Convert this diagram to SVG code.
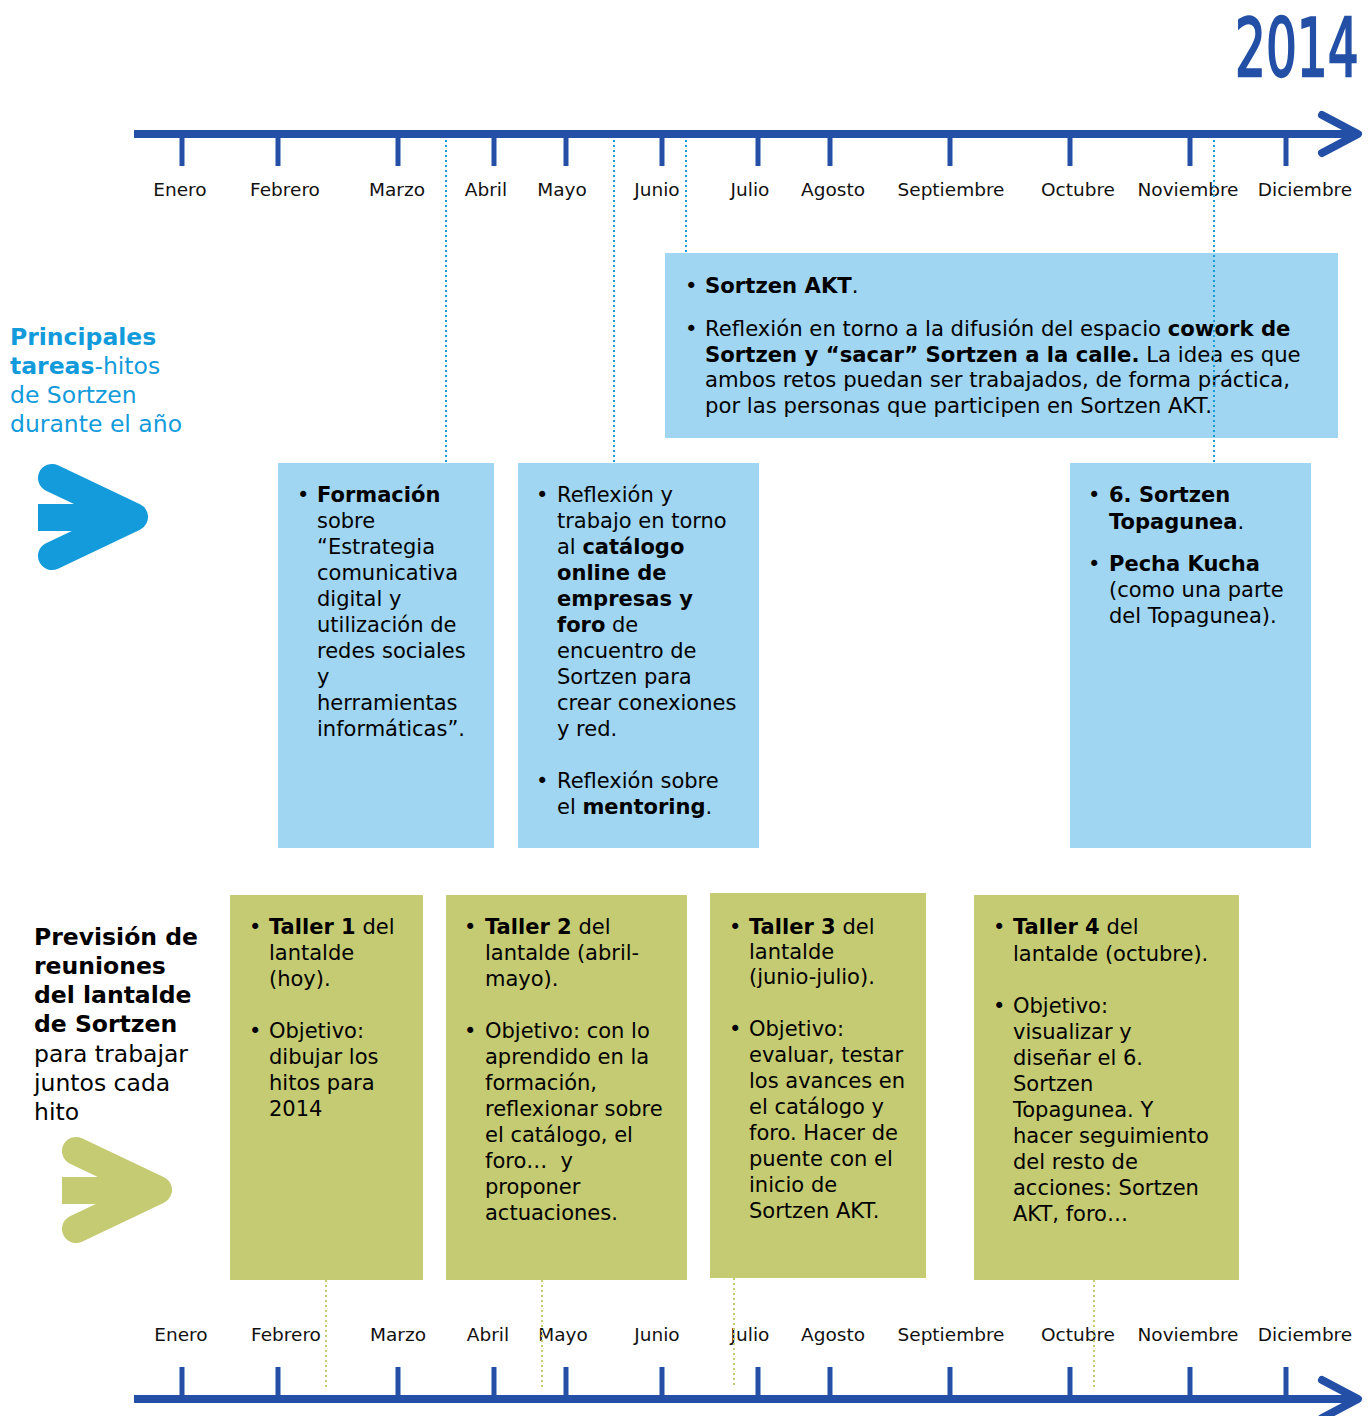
<svg xmlns="http://www.w3.org/2000/svg" width="1372" height="1416" viewBox="0 0 1372 1416">
<style>
text{font-family:"DejaVu Sans",Verdana,sans-serif;fill:#000}
.m{font-size:18.5px;text-anchor:middle;fill:#111}
.t{font-size:21px}
.ta{font-size:21.2px}
.b{font-weight:bold}
.axis{stroke:#2350a6;stroke-width:8;fill:none}
.tick{stroke:#2350a6;stroke-width:5}
.head{stroke:#2350a6;stroke-width:8;fill:none;stroke-linecap:round;stroke-linejoin:round}
.blue{fill:#a0d6f1}
.green{fill:#c5cb72}
.dotb{stroke:#1a9ad6;stroke-width:2;stroke-dasharray:2 3;fill:none}
.dotg{stroke:#c5cb72;stroke-width:2;stroke-dasharray:2 3;fill:none}
.lbl{font-size:23.5px;fill:#129bdb}
.lbl2{font-size:23.5px;fill:#000}
</style>

<g id="year" transform="translate(1235,76) scale(0.6,1)">
<text x="0" y="0" font-size="81" style="fill:#2350a6;stroke:#2350a6;stroke-width:2.4;font-family:'DejaVu Sans',sans-serif">2014</text>
</g>

<g id="timeline-top">
<line class="axis" x1="134" y1="134" x2="1358" y2="134"/>
<polyline class="head" points="1322,115 1358,134 1322,153"/>
<g class="tick">
<line x1="182" y1="134" x2="182" y2="166"/><line x1="278" y1="134" x2="278" y2="166"/><line x1="398" y1="134" x2="398" y2="166"/><line x1="494" y1="134" x2="494" y2="166"/><line x1="566" y1="134" x2="566" y2="166"/><line x1="662" y1="134" x2="662" y2="166"/><line x1="758" y1="134" x2="758" y2="166"/><line x1="830" y1="134" x2="830" y2="166"/><line x1="950" y1="134" x2="950" y2="166"/><line x1="1070" y1="134" x2="1070" y2="166"/><line x1="1190" y1="134" x2="1190" y2="166"/><line x1="1286" y1="134" x2="1286" y2="166"/>
</g>
<text class="m" x="180" y="196">Enero</text><text class="m" x="285" y="196">Febrero</text><text class="m" x="397" y="196">Marzo</text><text class="m" x="486" y="196">Abril</text><text class="m" x="562" y="196">Mayo</text><text class="m" x="657" y="196">Junio</text><text class="m" x="750" y="196">Julio</text><text class="m" x="833" y="196">Agosto</text><text class="m" x="951" y="196">Septiembre</text><text class="m" x="1078" y="196">Octubre</text><text class="m" x="1188" y="196">Noviembre</text><text class="m" x="1305" y="196">Diciembre</text>
</g>

<g id="timeline-bottom">
<line class="axis" x1="134" y1="1399" x2="1358" y2="1399"/>
<polyline class="head" points="1322,1380 1358,1399 1322,1418"/>
<g class="tick">
<line x1="182" y1="1367" x2="182" y2="1399"/><line x1="278" y1="1367" x2="278" y2="1399"/><line x1="398" y1="1367" x2="398" y2="1399"/><line x1="494" y1="1367" x2="494" y2="1399"/><line x1="566" y1="1367" x2="566" y2="1399"/><line x1="662" y1="1367" x2="662" y2="1399"/><line x1="758" y1="1367" x2="758" y2="1399"/><line x1="830" y1="1367" x2="830" y2="1399"/><line x1="950" y1="1367" x2="950" y2="1399"/><line x1="1070" y1="1367" x2="1070" y2="1399"/><line x1="1190" y1="1367" x2="1190" y2="1399"/><line x1="1286" y1="1367" x2="1286" y2="1399"/>
</g>
<text class="m" x="181" y="1341">Enero</text><text class="m" x="286" y="1341">Febrero</text><text class="m" x="398" y="1341">Marzo</text><text class="m" x="488" y="1341">Abril</text><text class="m" x="563" y="1341">Mayo</text><text class="m" x="657" y="1341">Junio</text><text class="m" x="750" y="1341">Julio</text><text class="m" x="833" y="1341">Agosto</text><text class="m" x="951" y="1341">Septiembre</text><text class="m" x="1078" y="1341">Octubre</text><text class="m" x="1188" y="1341">Noviembre</text><text class="m" x="1305" y="1341">Diciembre</text>
</g>

<g id="label-tareas">
<text class="lbl" x="10" y="345"><tspan class="b">Principales</tspan></text>
<text class="lbl" x="10" y="374"><tspan class="b">tareas</tspan>-hitos</text>
<text class="lbl" x="10" y="403">de Sortzen</text>
<text class="lbl" x="10" y="432">durante el año</text>
<rect x="38" y="504" width="70" height="27" fill="#139bdb"/>
<polyline points="52,478 134,517 52,556" fill="none" stroke="#139bdb" stroke-width="28" stroke-linecap="round" stroke-linejoin="round"/>
</g>

<g id="label-reuniones">
<text class="lbl2 b" x="34" y="945">Previsión de</text>
<text class="lbl2 b" x="34" y="974">reuniones</text>
<text class="lbl2 b" x="34" y="1003">del lantalde</text>
<text class="lbl2 b" x="34" y="1032">de Sortzen</text>
<text class="lbl2" x="34" y="1062">para trabajar</text>
<text class="lbl2" x="34" y="1091">juntos cada</text>
<text class="lbl2" x="34" y="1120">hito</text>
<rect x="62" y="1177" width="70" height="27" fill="#c5cb72"/>
<polyline points="76,1151 158,1190 76,1229" fill="none" stroke="#c5cb72" stroke-width="28" stroke-linecap="round" stroke-linejoin="round"/>
</g>

<g id="box-akt">
<rect class="blue" x="665" y="253" width="673" height="185"/>
<text class="ta" x="685" y="293">•</text>
<text class="ta" x="705" y="293"><tspan class="b">Sortzen AKT</tspan>.</text>
<text class="ta" x="685" y="336">•</text>
<text class="ta" x="705" y="336">Reflexión en torno a la difusión del espacio <tspan class="b">cowork de</tspan></text>
<text class="ta" x="705" y="362"><tspan class="b">Sortzen y “sacar” Sortzen a la calle.</tspan> La idea es que</text>
<text class="ta" x="705" y="387">ambos retos puedan ser trabajados, de forma práctica,</text>
<text class="ta" x="705" y="413">por las personas que participen en Sortzen AKT.</text>
</g>

<g id="box-formacion">
<rect class="blue" x="278" y="463" width="216" height="385"/>
<text class="t" x="297" y="502">•</text>
<text class="t" x="317" y="502"><tspan class="b">Formación</tspan></text>
<text class="t" x="317" y="528">sobre</text>
<text class="t" x="317" y="554">“Estrategia</text>
<text class="t" x="317" y="580">comunicativa</text>
<text class="t" x="317" y="606">digital y</text>
<text class="t" x="317" y="632">utilización de</text>
<text class="t" x="317" y="658">redes sociales</text>
<text class="t" x="317" y="684">y</text>
<text class="t" x="317" y="710">herramientas</text>
<text class="t" x="317" y="736">informáticas”.</text>
</g>

<g id="box-catalogo">
<rect class="blue" x="518" y="463" width="241" height="385"/>
<text class="t" x="536" y="502">•</text>
<text class="t" x="557" y="502">Reflexión y</text>
<text class="t" x="557" y="528">trabajo en torno</text>
<text class="t" x="557" y="554">al <tspan class="b">catálogo</tspan></text>
<text class="t b" x="557" y="580">online de</text>
<text class="t b" x="557" y="606">empresas y</text>
<text class="t" x="557" y="632"><tspan class="b">foro</tspan> de</text>
<text class="t" x="557" y="658">encuentro de</text>
<text class="t" x="557" y="684">Sortzen para</text>
<text class="t" x="557" y="710">crear conexiones</text>
<text class="t" x="557" y="736">y red.</text>
<text class="t" x="536" y="788">•</text>
<text class="t" x="557" y="788">Reflexión sobre</text>
<text class="t" x="557" y="814">el <tspan class="b">mentoring</tspan>.</text>
</g>

<g id="box-topagunea">
<rect class="blue" x="1070" y="463" width="241" height="385"/>
<text class="t" x="1088" y="502">•</text>
<text class="t b" x="1109" y="502">6. Sortzen</text>
<text class="t" x="1109" y="529"><tspan class="b">Topagunea</tspan>.</text>
<text class="t" x="1088" y="571">•</text>
<text class="t b" x="1109" y="571">Pecha Kucha</text>
<text class="t" x="1109" y="597">(como una parte</text>
<text class="t" x="1109" y="623">del Topagunea).</text>
</g>

<g id="taller-1">
<rect class="green" x="230" y="895" width="193" height="385"/>
<text class="t" x="249" y="934">•</text>
<text class="t" x="269" y="934"><tspan class="b">Taller 1</tspan> del</text>
<text class="t" x="269" y="960">lantalde</text>
<text class="t" x="269" y="986">(hoy).</text>
<text class="t" x="249" y="1038">•</text>
<text class="t" x="269" y="1038">Objetivo:</text>
<text class="t" x="269" y="1064">dibujar los</text>
<text class="t" x="269" y="1090">hitos para</text>
<text class="t" x="269" y="1116">2014</text>
</g>

<g id="taller-2">
<rect class="green" x="446" y="895" width="241" height="385"/>
<text class="t" x="464" y="934">•</text>
<text class="t" x="485" y="934"><tspan class="b">Taller 2</tspan> del</text>
<text class="t" x="485" y="960">lantalde (abril-</text>
<text class="t" x="485" y="986">mayo).</text>
<text class="t" x="464" y="1038">•</text>
<text class="t" x="485" y="1038">Objetivo: con lo</text>
<text class="t" x="485" y="1064">aprendido en la</text>
<text class="t" x="485" y="1090">formación,</text>
<text class="t" x="485" y="1116">reflexionar sobre</text>
<text class="t" x="485" y="1142">el catálogo, el</text>
<text class="t" x="485" y="1168" xml:space="preserve">foro…  y</text>
<text class="t" x="485" y="1194">proponer</text>
<text class="t" x="485" y="1220">actuaciones.</text>
</g>

<g id="taller-3">
<rect class="green" x="710" y="893" width="216" height="385"/>
<text class="t" x="729" y="934">•</text>
<text class="t" x="749" y="934"><tspan class="b">Taller 3</tspan> del</text>
<text class="t" x="749" y="959">lantalde</text>
<text class="t" x="749" y="984">(junio-julio).</text>
<text class="t" x="729" y="1036">•</text>
<text class="t" x="749" y="1036">Objetivo:</text>
<text class="t" x="749" y="1062">evaluar, testar</text>
<text class="t" x="749" y="1088">los avances en</text>
<text class="t" x="749" y="1114">el catálogo y</text>
<text class="t" x="749" y="1140">foro. Hacer de</text>
<text class="t" x="749" y="1166">puente con el</text>
<text class="t" x="749" y="1192">inicio de</text>
<text class="t" x="749" y="1218">Sortzen AKT.</text>
</g>

<g id="taller-4">
<rect class="green" x="974" y="895" width="265" height="385"/>
<text class="t" x="993" y="934">•</text>
<text class="t" x="1013" y="934"><tspan class="b">Taller 4</tspan> del</text>
<text class="t" x="1013" y="961">lantalde (octubre).</text>
<text class="t" x="993" y="1013">•</text>
<text class="t" x="1013" y="1013">Objetivo:</text>
<text class="t" x="1013" y="1039">visualizar y</text>
<text class="t" x="1013" y="1065">diseñar el 6.</text>
<text class="t" x="1013" y="1091">Sortzen</text>
<text class="t" x="1013" y="1117">Topagunea. Y</text>
<text class="t" x="1013" y="1143">hacer seguimiento</text>
<text class="t" x="1013" y="1169">del resto de</text>
<text class="t" x="1013" y="1195">acciones: Sortzen</text>
<text class="t" x="1013" y="1221">AKT, foro…</text>
</g>

<g id="connectors">
<line class="dotb" x1="446" y1="140" x2="446" y2="463"/>
<line class="dotb" x1="614" y1="140" x2="614" y2="463"/>
<line class="dotb" x1="686" y1="140" x2="686" y2="253"/>
<line class="dotb" x1="1214" y1="140" x2="1214" y2="463"/>
<line class="dotg" x1="326" y1="1280" x2="326" y2="1388"/>
<line class="dotg" x1="542" y1="1280" x2="542" y2="1388"/>
<line class="dotg" x1="734" y1="1278" x2="734" y2="1388"/>
<line class="dotg" x1="1094" y1="1280" x2="1094" y2="1388"/>
</g>
</svg>
